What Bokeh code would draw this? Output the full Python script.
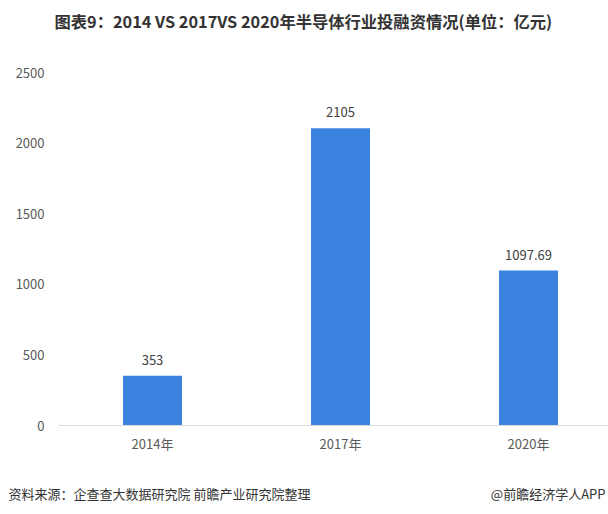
from bokeh.plotting import figure
from bokeh.models import Range1d, FixedTicker, Label, ColumnDataSource, LabelSet
from bokeh.layouts import column
from bokeh.core.properties import value
from bokeh.embed import file_html
from bokeh.resources import INLINE

categories = ["2014年", "2017年", "2020年"]
values = [353, 2105, 1097.69]
value_labels = ["353", "2105", "1097.69"]
y_ticks = [0, 500, 1000, 1500, 2000, 2500]

FONT = "Noto Sans CJK SC"


def text_strip(height):
    s = figure(width=608, height=height, output_backend="svg", toolbar_location=None,
               x_range=Range1d(0, 608), y_range=Range1d(0, height),
               min_border=0, x_axis_location=None, y_axis_location=None)
    s.frame_align = False
    s.outline_line_color = None
    s.xgrid.grid_line_color = None
    s.ygrid.grid_line_color = None
    return s


# header
h = text_strip(36)
h.add_layout(Label(x=54, y=16, x_units="screen", y_units="screen",
                   text="图表9：2014 VS 2017VS 2020年半导体行业投融资情况(单位：亿元)",
                   text_font=FONT, text_font_size="16.3px", text_font_style="bold",
                   text_color="#333333", text_baseline="middle", text_align="left"))

# main chart
xs = list(range(len(categories)))
src = ColumnDataSource(dict(x=xs, top=values, lab=value_labels))

p = figure(width=608, height=424, output_backend="svg", toolbar_location=None,
           x_range=Range1d(-0.5, 2.4255), y_range=Range1d(0, 2500),
           min_border_left=58, min_border_right=0, min_border_top=36, min_border_bottom=35)
p.frame_align = False
p.outline_line_color = None
p.xgrid.grid_line_color = None
p.ygrid.grid_line_color = None
p.background_fill_color = "white"
p.border_fill_color = "white"

p.vbar(x="x", top="top", width=0.314, bottom=0, source=src, color="#3c83df", line_color=None)

p.add_layout(LabelSet(x="x", y="top", text="lab", source=src, text_align="center",
                      text_baseline="bottom", y_offset=11, text_font=value(FONT),
                      text_font_size=value("13px"), text_color="#404040"))

p.xaxis.ticker = FixedTicker(ticks=xs)
p.xaxis.major_label_overrides = {i: c for i, c in enumerate(categories)}
p.xaxis.axis_line_color = "#d9d9d9"
p.xaxis.major_tick_line_color = None
p.xaxis.minor_tick_line_color = None
p.xaxis.major_label_standoff = 2
p.xaxis.major_label_text_font = FONT
p.xaxis.major_label_text_font_size = "13px"
p.xaxis.major_label_text_color = "#595959"

p.yaxis.ticker = FixedTicker(ticks=y_ticks)
p.yaxis.axis_line_color = None
p.yaxis.major_tick_line_color = None
p.yaxis.minor_tick_line_color = None
p.yaxis.major_label_standoff = 8
p.yaxis.major_label_text_font = FONT
p.yaxis.major_label_text_font_size = "13px"
p.yaxis.major_label_text_color = "#595959"

# footer
f = text_strip(54)
f.add_layout(Label(x=8, y=21, x_units="screen", y_units="screen",
                   text="资料来源：企查查大数据研究院 前瞻产业研究院整理",
                   text_font=FONT, text_font_size="13px",
                   text_color="#333333", text_baseline="middle", text_align="left"))
f.add_layout(Label(x=605, y=21, x_units="screen", y_units="screen",
                   text="@前瞻经济学人APP",
                   text_font=FONT, text_font_size="13px",
                   text_color="#333333", text_baseline="middle", text_align="right"))

layout = column(h, p, f, spacing=0)
open("out.html", "w").write(file_html(layout, INLINE))
